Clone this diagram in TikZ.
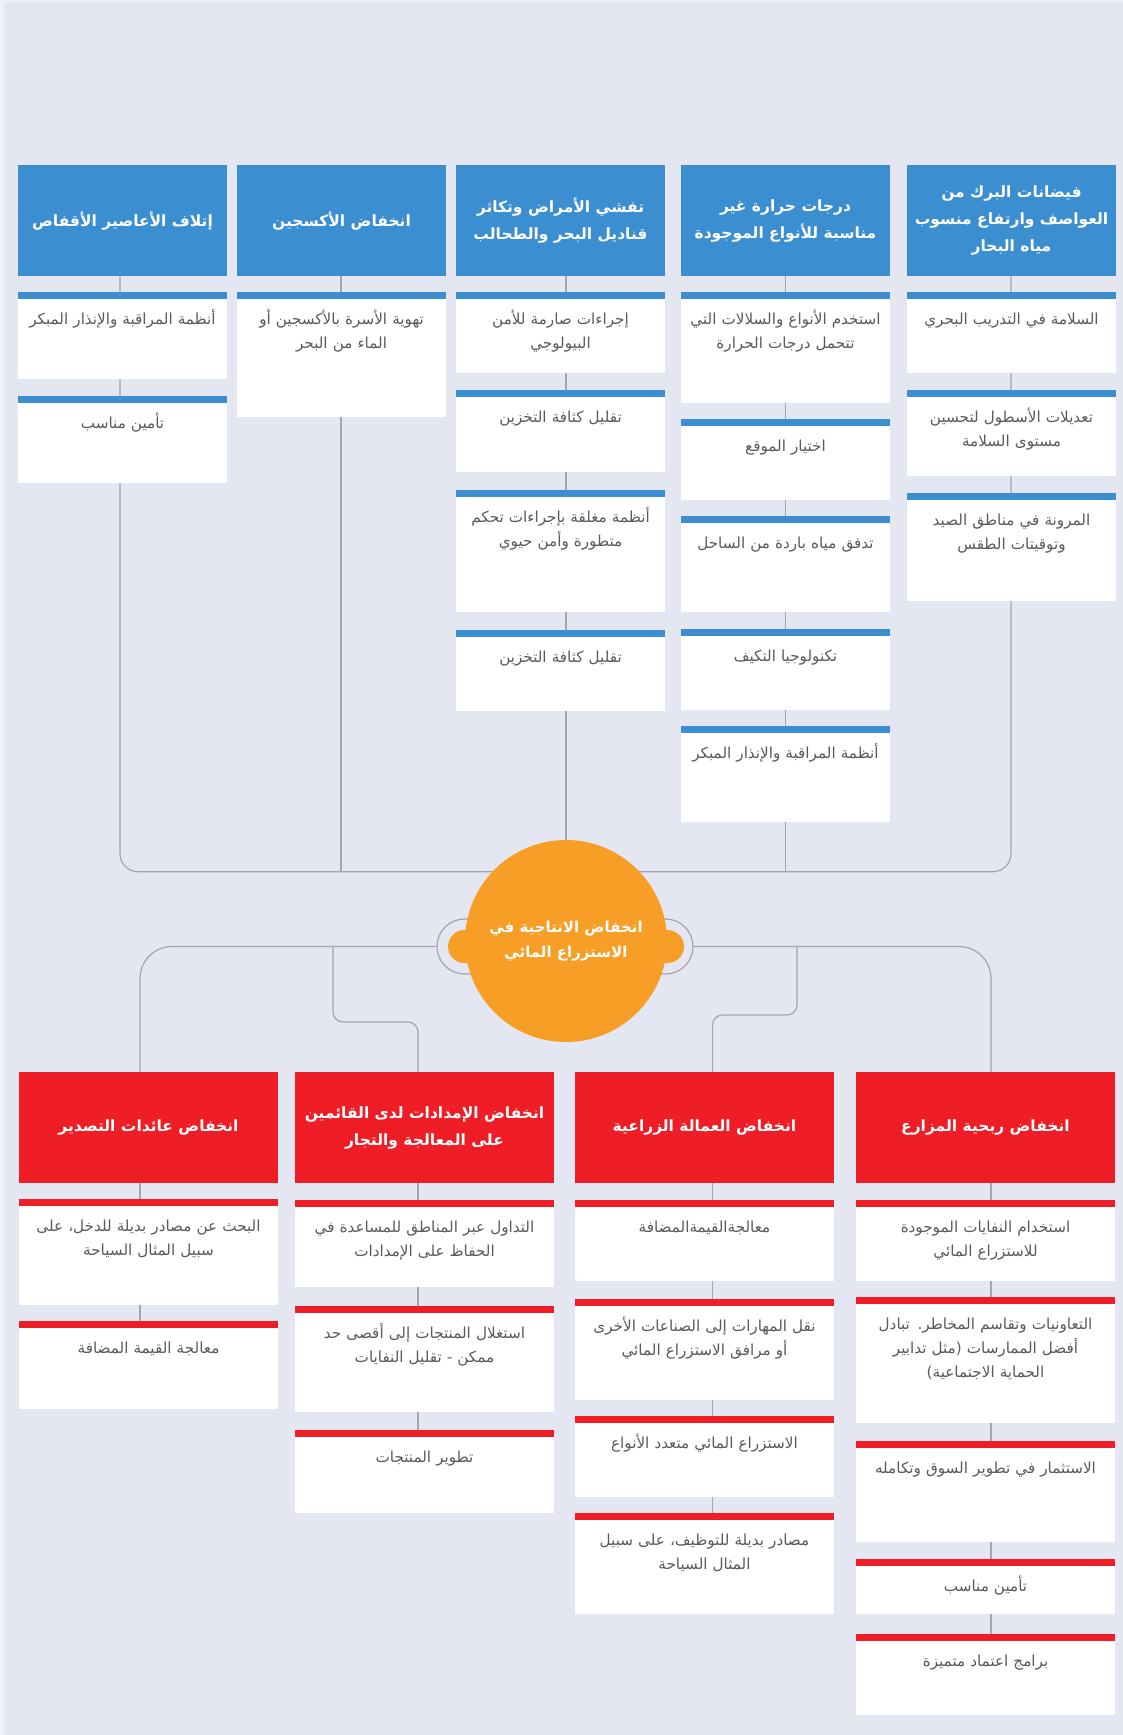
\documentclass[tikz,border=0pt]{standalone}
\usepackage{fontspec}
\usetikzlibrary{backgrounds}
\newfontfamily\arabicfont[Script=Arabic]{DejaVu Sans}
\TeXXeTstate=1
\definecolor{figBg}{HTML}{E4E7F2}
\definecolor{figEdge}{HTML}{EDEFF9}
\definecolor{figBlue}{HTML}{3B8ED0}
\definecolor{figRed}{HTML}{EE1D26}
\definecolor{figOrange}{HTML}{F79E27}
\definecolor{figLine}{HTML}{A3A6AE}
\definecolor{figText}{HTML}{5A5A5A}
\newcommand{\rtline}[1]{\beginR #1\endR}
\tikzset{
  fighead/.style={anchor=north, inner sep=0pt, minimum height=111pt, align=center,
                  text=white, font=\arabicfont\bfseries\fontsize{15.5}{27}\selectfont},
  figcause/.style={fighead, fill=figBlue, minimum width=209pt},
  figimpact/.style={fighead, fill=figRed, minimum width=259pt},
  figsub/.style={anchor=north, fill=white, inner sep=0pt, align=center, text height=32pt,
                 text=figText, font=\arabicfont\fontsize{15.2}{24}\selectfont},
  causesub/.style={figsub, text width=209pt, text depth=#1,
    path picture={\fill[figBlue] (path picture bounding box.north west)
                  rectangle ([yshift=-7pt]path picture bounding box.north east);}},
  impactsub/.style={figsub, text width=259pt, text depth=#1,
    path picture={\fill[figRed] (path picture bounding box.north west)
                  rectangle ([yshift=-7pt]path picture bounding box.north east);}},
  figconn/.style={draw=figLine, line width=1.2pt}
}

\begin{document}
\begin{tikzpicture}[x=1pt, y=-1pt]
\useasboundingbox (0,0) rectangle (1123,1735);
\begin{scope}[on background layer]
  \fill[figEdge] (0,0) rectangle (1123,1735);
  \fill[figBg] (4,2) rectangle (1123,1735);
\end{scope}

% causes (top row)
\node[figcause] (c1h) at (122.5,165) {\rtline{إتلاف الأعاصير الأقفاص}};
\node[figcause] (c2h) at (341.5,165) {\rtline{انخفاض الأكسجين}};
\node[figcause] (c3h) at (560.5,165) {\rtline{تفشي الأمراض وتكاثر}\\\rtline{قناديل البحر والطحالب}};
\node[figcause] (c4h) at (785.5,165) {\rtline{درجات حرارة غير}\\\rtline{مناسبة للأنواع الموجودة}};
\node[figcause] (c5h) at (1011.5,165) {\rtline{فيضانات البرك من}\\\rtline{العواصف وارتفاع منسوب}\\\rtline{مياه البحار}};

\node[causesub=55pt] (c1a) at (122.5,292) {\rtline{أنظمة المراقبة والإنذار المبكر}};
\node[causesub=55pt] (c1b) at (122.5,396) {\rtline{تأمين مناسب}};

\node[causesub=93pt] (c2a) at (341.5,292) {\rtline{تهوية الأسرة بالأكسجين أو}\\\rtline{الماء من البحر}};

\node[causesub=49pt] (c3a) at (560.5,292) {\rtline{إجراءات صارمة للأمن}\\\rtline{البيولوجي}};
\node[causesub=50pt] (c3b) at (560.5,390) {\rtline{تقليل كثافة التخزين}};
\node[causesub=90pt] (c3c) at (560.5,490) {\rtline{أنظمة مغلقة بإجراءات تحكم}\\\rtline{متطورة وأمن حيوي}};
\node[causesub=49pt] (c3d) at (560.5,630) {\rtline{تقليل كثافة التخزين}};

\node[causesub=79pt] (c4a) at (785.5,292) {\rtline{استخدم الأنواع والسلالات التي}\\\rtline{تتحمل درجات الحرارة}};
\node[causesub=49pt] (c4b) at (785.5,419) {\rtline{اختيار الموقع}};
\node[causesub=64pt] (c4c) at (785.5,516) {\rtline{تدفق مياه باردة من الساحل}};
\node[causesub=49pt] (c4d) at (785.5,629) {\rtline{تكنولوجيا التكيف}};
\node[causesub=64pt] (c4e) at (785.5,726) {\rtline{أنظمة المراقبة والإنذار المبكر}};

\node[causesub=49pt] (c5a) at (1011.5,292) {\rtline{السلامة في التدريب البحري}};
\node[causesub=54pt] (c5b) at (1011.5,390) {\rtline{تعديلات الأسطول لتحسين}\\\rtline{مستوى السلامة}};
\node[causesub=76pt] (c5c) at (1011.5,493) {\rtline{المرونة في مناطق الصيد}\\\rtline{وتوقيتات الطقس}};

% central problem
\node[draw=figLine, line width=1.2pt, rounded corners=27.5pt, minimum width=256pt,
      minimum height=55pt, inner sep=0pt] (ring) at (565,946.5) {};
\node[fill=figOrange, rounded corners=16.5pt, minimum width=236pt, minimum height=33pt,
      inner sep=0pt] (tab) at (566,946.5) {};
\node[circle, fill=figOrange, minimum size=202pt, inner sep=0pt, align=center, text=white,
      font=\arabicfont\bfseries\fontsize{15}{25}\selectfont] (hub) at (566,941)
  {\rtline{انخفاض الانتاجية في}\\\rtline{الاستزراع المائي}};

% impacts (bottom row)
\node[figimpact] (b1h) at (148.5,1072) {\rtline{انخفاض عائدات التصدير}};
\node[figimpact] (b2h) at (424.5,1072) {\rtline{انخفاض الإمدادات لدى القائمين}\\\rtline{على المعالجة والتجار}};
\node[figimpact] (b3h) at (704.5,1072) {\rtline{انخفاض العمالة الزراعية}};
\node[figimpact] (b4h) at (985.5,1072) {\rtline{انخفاض ربحية المزارع}};

\node[impactsub=74pt] (b1a) at (148.5,1199) {\rtline{البحث عن مصادر بديلة للدخل، على}\\\rtline{سبيل المثال السياحة}};
\node[impactsub=56pt] (b1b) at (148.5,1321) {\rtline{معالجة القيمة المضافة}};

\node[impactsub=55pt] (b2a) at (424.5,1200) {\rtline{التداول عبر المناطق للمساعدة في}\\\rtline{الحفاظ على الإمدادات}};
\node[impactsub=74pt] (b2b) at (424.5,1306) {\rtline{استغلال المنتجات إلى أقصى حد}\\\rtline{ممكن - تقليل النفايات}};
\node[impactsub=51pt] (b2c) at (424.5,1430) {\rtline{تطوير المنتجات}};

\node[impactsub=49pt] (b3a) at (704.5,1200) {\rtline{معالجةالقيمةالمضافة}};
\node[impactsub=69pt] (b3b) at (704.5,1299) {\rtline{نقل المهارات إلى الصناعات الأخرى}\\\rtline{أو مرافق الاستزراع المائي}};
\node[impactsub=49pt] (b3c) at (704.5,1416) {\rtline{الاستزراع المائي متعدد الأنواع}};
\node[impactsub=69pt] (b3d) at (704.5,1513) {\rtline{مصادر بديلة للتوظيف، على سبيل}\\\rtline{المثال السياحة}};

\node[impactsub=49pt] (b4a) at (985.5,1200) {\rtline{استخدام النفايات الموجودة}\\\rtline{للاستزراع المائي}};
\node[impactsub=94pt] (b4b) at (985.5,1297) {\rtline{التعاونيات وتقاسم المخاطر. تبادل}\\\rtline{أفضل الممارسات (مثل تدابير}\\\rtline{الحماية الاجتماعية)}};
\node[impactsub=69pt] (b4c) at (985.5,1441) {\rtline{الاستثمار في تطوير السوق وتكامله}};
\node[impactsub=23pt] (b4d) at (985.5,1559) {\rtline{تأمين مناسب}};
\node[impactsub=49pt] (b4e) at (985.5,1634) {\rtline{برامج اعتماد متميزة}};

% connectors
\coordinate (k1) at (120,871.7);
\coordinate (k2) at (341,871.7);
\coordinate (k3) at (566,871.7);
\coordinate (k4) at (785.5,871.7);
\coordinate (k5) at (1011,871.7);
\coordinate (m1) at (140,1072);
\coordinate (m2) at (418,1072);
\coordinate (m3) at (712.6,1072);
\coordinate (m4) at (991,1072);
\coordinate (n2) at (333,946.5);
\coordinate (q2) at (380,1022);
\coordinate (n3) at (797,946.5);
\coordinate (q3) at (750,1015);
\begin{scope}[on background layer]
  \draw[figconn, rounded corners=18pt] (c1h.south -| k1) -- (k1) -- (k5) -- (c5h.south -| k5);
  \draw[figconn] (c2h.south -| k2) -- (k2);
  \draw[figconn] (c3h.south -| k3) -- (hub);
  \draw[figconn] (c4h.south -| k4) -- (k4);
  \draw[figconn, rounded corners=32pt] (ring.west) -| (m1);
  \draw[figconn, rounded corners=32pt] (ring.east) -| (m4);
  \draw[figconn, rounded corners=10pt] (n2) |- (q2) -| (m2);
  \draw[figconn, rounded corners=10pt] (n3) |- (q3) -| (m3);
  \draw[figconn] (b1h.south -| m1) -- (b1b.north -| m1);
  \draw[figconn] (b2h.south -| m2) -- (b2c.north -| m2);
  \draw[figconn] (b3h.south -| m3) -- (b3d.north -| m3);
  \draw[figconn] (b4h.south -| m4) -- (b4e.north -| m4);
\end{scope}
\end{tikzpicture}
\end{document}
